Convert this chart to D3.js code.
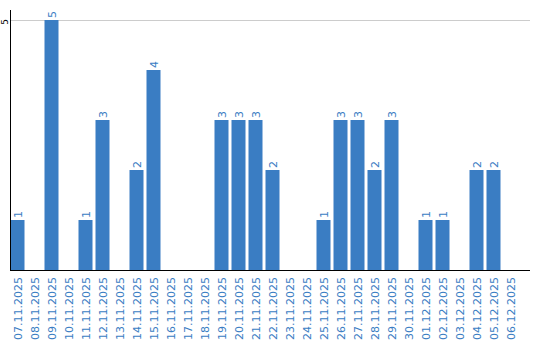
<!DOCTYPE html>
<html><head><meta charset="utf-8">
<script src="https://cdn.jsdelivr.net/npm/d3@7"></script>
<style>body{margin:0;background:#fff}svg{display:block}text{font-family:"DejaVu Sans",Verdana,sans-serif}</style>
</head><body>
<svg id="c" width="540" height="340"></svg>
<script>
const categories = ["07.11.2025","08.11.2025","09.11.2025","10.11.2025","11.11.2025","12.11.2025","13.11.2025","14.11.2025","15.11.2025","16.11.2025","17.11.2025","18.11.2025","19.11.2025","20.11.2025","21.11.2025","22.11.2025","23.11.2025","24.11.2025","25.11.2025","26.11.2025","27.11.2025","28.11.2025","29.11.2025","30.11.2025","01.12.2025","02.12.2025","03.12.2025","04.12.2025","05.12.2025","06.12.2025"];
const values = [1,0,5,0,1,3,0,2,4,0,0,0,3,3,3,2,0,0,1,3,3,2,3,0,1,1,0,2,2,0];
const yTicks = [5];

const svg = d3.select("#c");
const blue = "#3a7dc3";
const x = d3.scaleBand().domain(categories).range([10.5, 517.5]).paddingInner(3/17).paddingOuter(0);
const y = d3.scaleLinear().domain([0, 5]).range([270, 20]);

// grid
svg.append("g").selectAll("line").data(yTicks).join("line")
  .attr("x1", 10).attr("x2", 530).attr("y1", d => y(d)+0.5).attr("y2", d => y(d)+0.5)
  .attr("stroke", "#cccccc").attr("stroke-width", 1);

// bars
svg.append("g").selectAll("rect").data(values.map((v,i)=>({c:categories[i],v}))).join("rect")
  .attr("x", d => x(d.c)).attr("width", x.bandwidth())
  .attr("y", d => y(d.v)).attr("height", d => y(0) - y(d.v))
  .attr("fill", blue);

// value labels
svg.append("g").selectAll("text").data(values.map((v,i)=>({c:categories[i],v})).filter(d=>d.v>0)).join("text")
  .attr("transform", d => `translate(${x(d.c)+x.bandwidth()/2+4},${y(d.v)-2}) rotate(-90)`)
  .attr("text-anchor", "start").attr("font-size", 11).attr("fill", blue)
  .text(d => d.v);

// y axis
svg.append("line").attr("x1", 10.5).attr("x2", 10.5).attr("y1", 10).attr("y2", 270).attr("stroke", "#000");
svg.append("g").selectAll("text").data(yTicks).join("text")
  .attr("transform", d => `translate(7.5,${y(d)+2}) rotate(-90)`)
  .attr("text-anchor", "middle").attr("font-size", 9).attr("fill", "#000").text(d => d);

// x axis
svg.append("line").attr("x1", 10).attr("x2", 530).attr("y1", 270.5).attr("y2", 270.5).attr("stroke", "#000");
svg.append("g").selectAll("text").data(categories).join("text")
  .attr("transform", d => `translate(${x(d)+x.bandwidth()/2+4},277) rotate(-90)`)
  .attr("text-anchor", "end").attr("font-size", 11).attr("fill", blue).text(d => d);
</script>
</body></html>
